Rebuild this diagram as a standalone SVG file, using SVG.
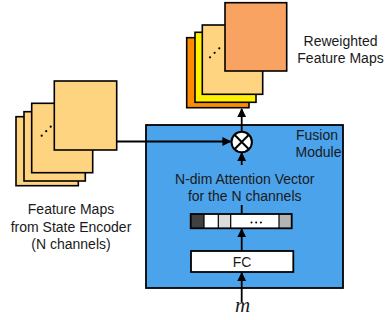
<svg xmlns="http://www.w3.org/2000/svg" width="385" height="320" viewBox="0 0 385 320">
<defs>
<style>
.t{font-family:"Liberation Sans",Arial,sans-serif;font-size:14px;fill:#1a1a1a;text-anchor:middle}
.sheet{stroke:#000;stroke-width:1.6}
.ln{stroke:#000;stroke-width:1.8;fill:none}
.dot{fill:#000}
</style>
<marker id="ah" viewBox="0 0 10 10" refX="9" refY="5" markerWidth="5" markerHeight="5" orient="auto" markerUnits="strokeWidth">
<path d="M0,0 L10,5 L0,10 z" fill="#000"/>
</marker>
</defs>
<rect width="385" height="320" fill="#fff"/>

<g id="fusion-module">
<rect x="146" y="125" width="197" height="163" fill="#4BA3EB" stroke="#000" stroke-width="1.8"/>
<text class="t" x="317" y="140">Fusion</text>
<text class="t" x="318.5" y="156.5">Module</text>
</g>

<g id="input-maps">
<rect class="sheet" x="16" y="116.7" width="62.3" height="69" fill="#FED480"/>
<rect class="sheet" x="24" y="111.7" width="61.3" height="69.3" fill="#FED480"/>
<rect class="sheet" x="31.7" y="103.3" width="61" height="69.4" fill="#FED480"/>
<circle class="dot" cx="41.7" cy="135.7" r="1.1"/>
<circle class="dot" cx="46.2" cy="131.2" r="1.1"/>
<circle class="dot" cx="50.7" cy="126.7" r="1.1"/>
<rect class="sheet" x="54.3" y="81" width="62.4" height="69" fill="#FED480"/>
<text class="t" x="71" y="213.5">Feature Maps</text>
<text class="t" x="71" y="231.5">from State Encoder</text>
<text class="t" x="71" y="249.3">(N channels)</text>
</g>

<g id="reweighted-maps">
<rect class="sheet" x="186.7" y="37.7" width="62.3" height="70" fill="#FF8C00"/>
<rect class="sheet" x="195" y="32.3" width="61" height="70" fill="#FFF200"/>
<rect class="sheet" x="202.3" y="25" width="60.4" height="69.3" fill="#FED480"/>
<circle class="dot" cx="210" cy="57.3" r="1.1"/>
<circle class="dot" cx="214.6" cy="52.8" r="1.1"/>
<circle class="dot" cx="219.3" cy="48.3" r="1.1"/>
<rect class="sheet" x="225" y="2.7" width="61.7" height="68.3" fill="#F9A362"/>
<text class="t" x="340.5" y="45.7">Reweighted</text>
<text class="t" x="340.5" y="62.7">Feature Maps</text>
</g>

<g id="multiply">
<circle cx="241.7" cy="142" r="10.2" fill="#fff" stroke="#000" stroke-width="2"/>
<path d="M234.5,134.8 L248.9,149.2 M248.9,134.8 L234.5,149.2" stroke="#000" stroke-width="2"/>
</g>

<g id="attention-label">
<text class="t" x="244.7" y="184">N-dim Attention Vector</text>
<text class="t" x="244.7" y="200.5">for the N channels</text>
</g>

<g id="attention-vector">
<rect x="190.7" y="214" width="13.3" height="14.3" fill="#404040"/>
<rect x="204" y="214" width="14.3" height="14.3" fill="#fff"/>
<rect x="218.3" y="214" width="12.4" height="14.3" fill="#DCDCDC"/>
<rect x="230.7" y="214" width="48.3" height="14.3" fill="#fff"/>
<rect x="279" y="214" width="12.7" height="14.3" fill="#B4B4B4"/>
<path d="M204,214 V228.3 M218.3,214 V228.3 M230.7,214 V228.3 M279,214 V228.3" stroke="#000" stroke-width="1.2"/>
<rect x="190.7" y="214" width="101" height="14.3" fill="none" stroke="#000" stroke-width="1.8"/>
<circle class="dot" cx="251.5" cy="222.5" r="1"/>
<circle class="dot" cx="256.2" cy="222.5" r="1"/>
<circle class="dot" cx="260.9" cy="222.5" r="1"/>
</g>

<g id="fc">
<rect x="191" y="251" width="102.3" height="21" fill="#fff" stroke="#000" stroke-width="1.8"/>
<text class="t" x="242" y="266.5">FC</text>
</g>

<g id="m-input">
<text x="242.5" y="311.5" font-family="'Liberation Serif','Times New Roman',serif" font-style="italic" font-size="21" fill="#1a1a1a" text-anchor="middle">m</text>
</g>

<g id="connectors">
<line class="ln" x1="116.7" y1="141.5" x2="230.5" y2="141.5" marker-end="url(#ah)"/>
<line class="ln" x1="241.7" y1="131.8" x2="241.7" y2="109" marker-end="url(#ah)"/>
<line class="ln" x1="241.7" y1="165" x2="241.7" y2="153" marker-end="url(#ah)"/>
<line class="ln" x1="241.7" y1="214" x2="241.7" y2="205"/>
<line class="ln" x1="241.7" y1="251" x2="241.7" y2="229.2" marker-end="url(#ah)"/>
<line class="ln" x1="241.7" y1="302" x2="241.7" y2="273" marker-end="url(#ah)"/>
</g>
</svg>
